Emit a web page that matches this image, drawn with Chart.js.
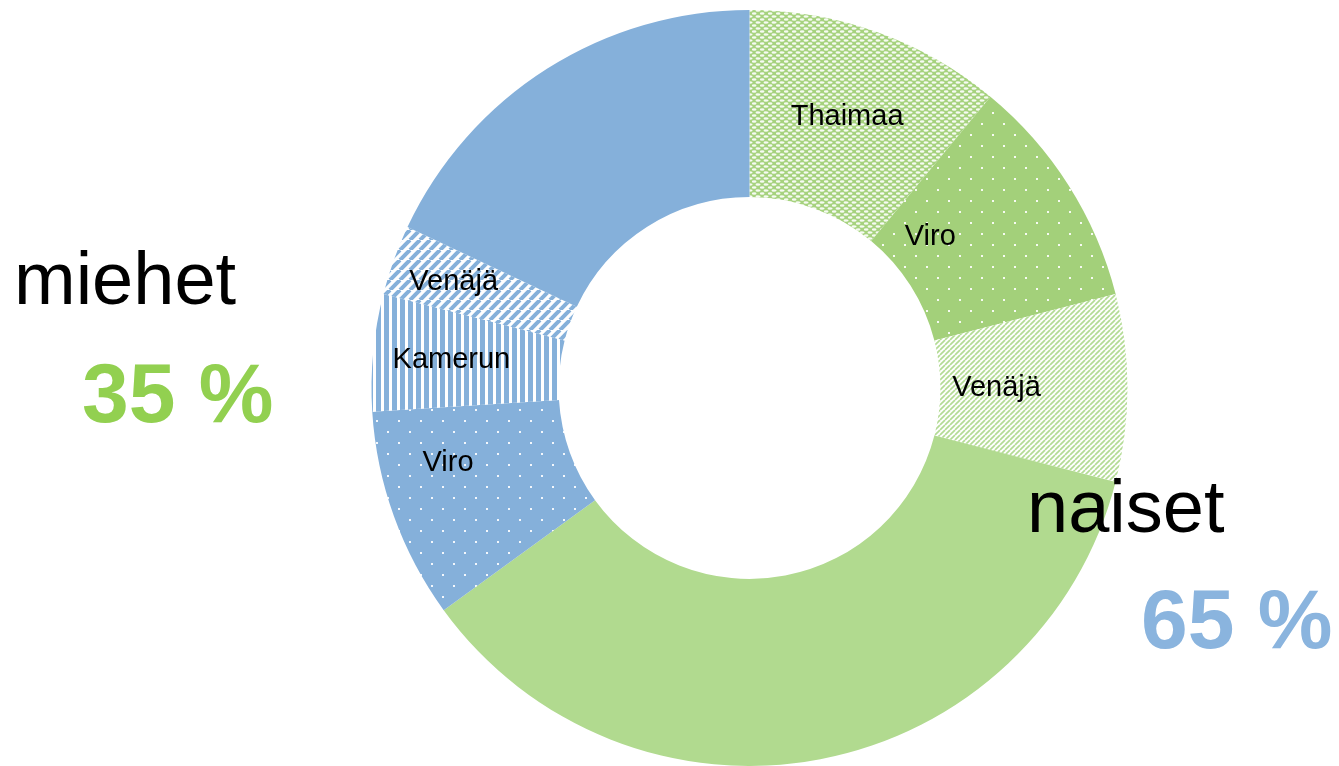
<!DOCTYPE html>
<html>
<head>
<meta charset="utf-8">
<script src="https://cdn.jsdelivr.net/npm/chart.js@4/dist/chart.umd.min.js"></script>
<style>
  html, body { margin: 0; padding: 0; background: #fff; }
  #wrap { width: 1339px; height: 766px; }
</style>
</head>
<body>
<div id="wrap"><canvas id="grafico"></canvas></div>
<script>
// dati
var maat = ['Thaimaa', 'Viro', 'Venäjä', 'muut', 'Viro', 'Kamerun', 'Venäjä', 'muut'];
var osuudet = [11, 10, 8, 36, 9, 5, 3, 18];
var naytettavatNimet = ['Thaimaa', 'Viro', 'Venäjä', '', 'Viro', 'Kamerun', 'Venäjä', ''];
var ryhmat = ['miehet', 'naiset'];
var ryhmaProsentit = ['35 %', '65 %'];

// stili
var verde = '#a6d27e';
var verdeChiaro = '#b1da8f';
var blu = '#85b0da';
// posizione etichetta dentro lo spicchio (frazione di raggio e di angolo)
var etichettaRaggio = [0.52, 0.24, 0.3, 0.5, 0.64, 0.58, 0.66, 0.5];
var etichettaAngolo = [0.5, 0.29, 0.5, 0.5, 0.68, 0.5, 0.5, 0.5];

function tile(w, h, draw) {
  var c = document.createElement('canvas');
  c.width = w; c.height = h;
  var x = c.getContext('2d');
  draw(x, w, h);
  return x.createPattern(c, 'repeat');
}

// piccole ellissi bianche fitte
var pThai = tile(8, 6, function (x, w, h) {
  x.fillStyle = verde; x.fillRect(0, 0, w, h);
  x.fillStyle = 'rgba(255,255,255,0.9)';
  x.beginPath(); x.ellipse(2, 1.5, 2.5, 1.2, 0, 0, Math.PI * 2); x.fill();
  x.beginPath(); x.ellipse(6, 4.5, 2.5, 1.2, 0, 0, Math.PI * 2); x.fill();
  x.beginPath(); x.ellipse(10, 4.5, 2.5, 1.2, 0, 0, Math.PI * 2); x.fill();
  x.beginPath(); x.ellipse(-2, 4.5, 2.5, 1.2, 0, 0, Math.PI * 2); x.fill();
});
function puntini(col) {
  return tile(22, 22, function (x, w, h) {
    x.fillStyle = col; x.fillRect(0, 0, w, h);
    x.fillStyle = 'rgba(255,255,255,0.9)';
    x.fillRect(2, 2, 2, 2);
    x.fillRect(13, 13, 2, 2);
  });
}
var pViroV = puntini('#a3d07a');
var pViroB = puntini(blu);
var pVenV = tile(5, 5, function (x, w, h) {
  x.fillStyle = '#fff'; x.fillRect(0, 0, w, h);
  x.strokeStyle = '#b3db94'; x.lineWidth = 1.7;
  for (var k = -1; k <= 1; k++) {
    x.beginPath(); x.moveTo(k * 5, 5); x.lineTo(k * 5 + 5, 0); x.stroke();
  }
});
var pKam = tile(8, 8, function (x, w, h) {
  x.fillStyle = blu; x.fillRect(0, 0, w, h);
  x.fillStyle = '#fff'; x.fillRect(5, 0, 3, h);
});
var pVenB = tile(10, 10, function (x, w, h) {
  x.fillStyle = '#fff'; x.fillRect(0, 0, w, h);
  x.strokeStyle = blu; x.lineWidth = 4;
  for (var k = -1; k <= 1; k++) {
    x.beginPath(); x.moveTo(k * 10, 10); x.lineTo(k * 10 + 10, 0); x.stroke();
  }
});

var colori = [pThai, pViroV, pVenV, verdeChiaro, pViroB, pKam, pVenB, blu];

var etichette = {
  id: 'etichette',
  afterDatasetsDraw: function (chart) {
    var ctx = chart.ctx;
    var archi = chart.getDatasetMeta(0).data;
    ctx.save();
    ctx.fillStyle = '#000';
    ctx.font = '29px "Liberation Sans", Arial, sans-serif';
    ctx.textAlign = 'center';
    ctx.textBaseline = 'middle';
    for (var i = 0; i < archi.length; i++) {
      if (!naytettavatNimet[i]) continue;
      var p = archi[i].getProps(['x', 'y', 'startAngle', 'endAngle', 'innerRadius', 'outerRadius'], true);
      var m = p.startAngle + (p.endAngle - p.startAngle) * etichettaAngolo[i];
      var r = p.innerRadius + (p.outerRadius - p.innerRadius) * etichettaRaggio[i];
      ctx.fillText(naytettavatNimet[i], p.x + Math.cos(m) * r, p.y + Math.sin(m) * r);
    }
    // testi dei gruppi
    ctx.textAlign = 'left';
    ctx.textBaseline = 'alphabetic';
    ctx.font = '74px "Liberation Sans", Arial, sans-serif';
    ctx.fillText(ryhmat[0], 14, 304);
    ctx.fillText(ryhmat[1], 1027, 532);
    ctx.font = 'bold 84px "Liberation Sans", Arial, sans-serif';
    ctx.fillStyle = '#92d050';
    ctx.fillText(ryhmaProsentit[0], 82, 422);
    ctx.fillStyle = '#8ab4de';
    ctx.fillText(ryhmaProsentit[1], 1141, 648);
    ctx.restore();
  }
};

new Chart(document.getElementById('grafico'), {
  type: 'doughnut',
  data: {
    labels: maat,
    datasets: [{
      data: osuudet,
      backgroundColor: colori,
      borderWidth: 0
    }]
  },
  options: {
    responsive: true,
    maintainAspectRatio: false,
    animation: false,
    cutout: '50.5%',
    layout: { padding: { left: 160, right: 0, top: 10, bottom: 0 } },
    plugins: {
      legend: { display: false },
      tooltip: { enabled: false }
    }
  },
  plugins: [etichette]
});
</script>
</body>
</html>
